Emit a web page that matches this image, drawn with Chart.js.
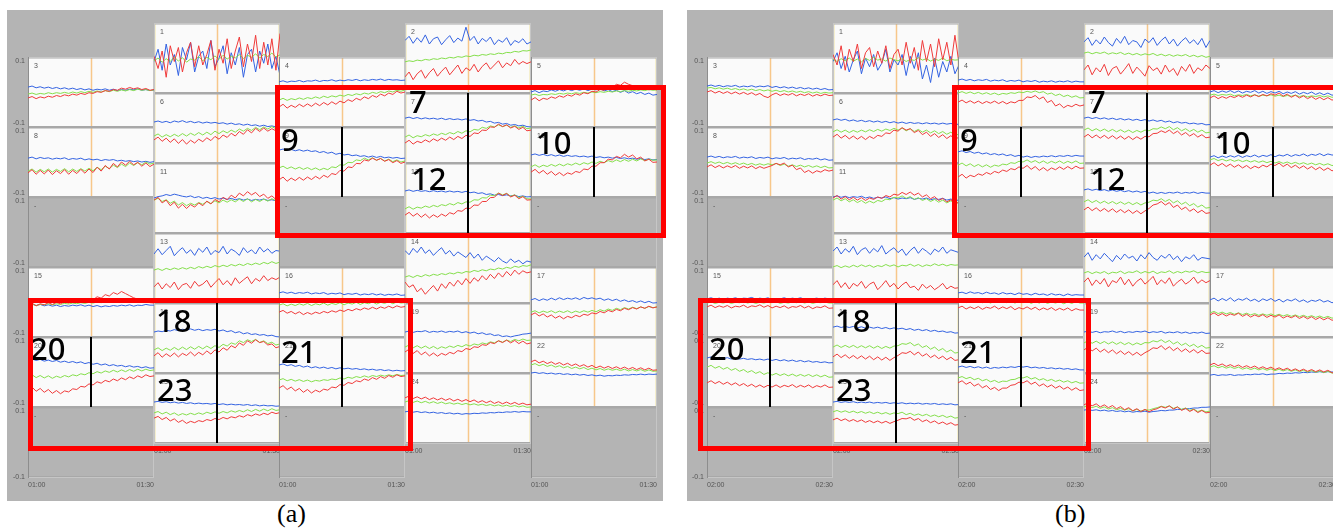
<!DOCTYPE html>
<html>
<head>
<meta charset="utf-8">
<title>Channel tiles (a) / (b)</title>
<script src="https://cdn.jsdelivr.net/npm/chart.js"></script>
<style>
  body { margin:0; width:1333px; height:530px; position:relative; overflow:hidden; background:#fff; }
  .panel { position:absolute; top:10px; height:491px; background:#b4b4b4; }
  canvas { position:absolute; }
  .box { position:absolute; border:5px solid #ff0000; box-sizing:border-box; z-index:5; }
  .cap { position:absolute; top:499px; font:26px "Liberation Serif", serif; color:#000; }
</style>
</head>
<body>
<div class="panel" style="left:7px;width:656px"></div>
<div class="panel" style="left:687px;width:660px"></div>
<script>
// values in 1/1000 of the axis unit (axis runs -0.1 .. 0.1), 32 samples over 30 min
// ---- panel (a) 01:00 - 01:30 ----
const a1b = [-10,25,-35,40,-20,10,-50,30,-5,45,-40,5,20,-30,50,-25,0,35,-45,15,-20,30,-55,10,25,-40,20,-15,40,-30,5,-50];
const a1g = [-8,0,-12,-2,-10,3,-9,1,-12,-3,-6,4,-8,2,-5,6,-4,8,-3,5,0,10,-2,8,2,12,0,10,4,14,3,9];
const a1r = [5,-30,20,-55,35,-10,30,-40,15,45,-25,35,-20,10,50,-35,25,-15,55,-30,20,60,-25,40,-10,65,-30,45,-20,55,-35,70];
const a2b = [50,62,42,58,45,66,40,55,60,38,52,64,44,57,48,88,50,62,40,56,47,60,38,52,45,58,36,50,44,55,40,46];
const a2g = [-11,-8,-10,-6,-8,-4,-6,-2,-4,0,-2,2,0,4,2,6,4,8,6,10,8,12,10,14,12,16,15,19,17,21,20,23];
const a2r = [-54,-40,-62,-45,-35,-58,-42,-30,-52,-38,-26,-48,-34,-20,-44,-28,-36,-18,-40,-24,-14,-32,-20,-8,-28,-14,-22,-4,-18,-10,-16,-11];
const a3b = [14,17,12,15,11,14,10,13,9,12,8,11,7,10,6,9,5,8,6,9,5,8,4,7,5,8,6,9,5,7,4,6];
const a3g = [-6,-3,-7,-4,-6,-2,-5,-2,-4,-1,-4,0,-3,1,-2,2,-1,3,0,4,1,5,2,6,3,7,4,8,5,7,4,6];
const a3r = [-17,-13,-19,-14,-17,-12,-15,-10,-13,-8,-11,-6,-9,-4,-7,-2,-4,1,-1,4,2,7,5,11,8,13,9,12,7,10,5,7];
const a4b = [29,32,28,31,30,33,29,32,31,34,30,33,32,35,31,34,32,35,33,36,32,35,33,36,34,37,33,36,34,35,33,34];
const a4g = [-23,-18,-24,-19,-22,-17,-21,-16,-19,-14,-18,-12,-16,-11,-14,-9,-12,-7,-10,-5,-8,-3,-6,-1,-4,1,-2,3,0,5,2,6];
const a4r = [-43,-35,-46,-38,-44,-35,-42,-34,-41,-32,-39,-30,-37,-28,-35,-26,-31,-22,-27,-18,-23,-14,-19,-10,-15,-6,-11,-3,-7,2,-3,0];
const a5b = [0,4,-2,3,1,6,2,7,3,8,4,8,5,9,4,8,6,10,3,7,1,5,-1,4,-3,1,-5,-1,-7,-3,-9,-7];
const a5g = [-9,-6,-10,-7,-8,-5,-7,-4,-6,-3,-5,-2,-4,-1,-3,0,-2,1,-1,2,0,3,1,4,2,5,3,6,4,7,5,6];
const a5r = [-23,-16,-25,-18,-21,-14,-18,-11,-15,-8,-12,-5,-9,-2,-5,2,0,7,5,14,12,22,19,28,22,18,14,10,12,6,9,6];
const a6b = [17,20,16,19,15,20,17,21,16,19,15,18,14,17,14,16,13,15,11,14,10,12,8,11,7,9,5,8,4,6,3,5];
const a6g = [-23,-17,-26,-19,-25,-18,-24,-16,-23,-15,-21,-13,-20,-12,-19,-9,-16,-8,-14,-6,-12,-3,-9,-1,-7,2,-5,3,-3,4,-2,1];
const a6r = [-34,-26,-38,-29,-41,-31,-44,-33,-46,-35,-43,-32,-39,-28,-36,-24,-32,-20,-27,-15,-23,-10,-18,-5,-14,-1,-10,0,-9,-2,-8,-5];
const a7b = [28,31,27,30,26,29,26,28,25,28,24,27,24,26,23,26,22,24,20,22,17,19,14,16,11,13,8,10,6,8,4,3];
const a7g = [-26,-20,-28,-22,-25,-19,-23,-17,-21,-15,-19,-13,-17,-10,-15,-8,-11,-4,-6,2,-1,6,3,9,4,8,2,6,0,5,-2,0];
const a7r = [-43,-35,-46,-38,-42,-34,-40,-31,-37,-29,-35,-26,-33,-24,-30,-21,-24,-14,-16,-6,-7,3,2,11,4,9,0,5,-4,2,-8,-6];
const a8b = [11,14,9,13,10,12,8,11,9,12,7,10,8,11,6,9,6,8,4,7,5,7,3,5,2,4,1,3,0,2,-1,1];
const a8g = [-26,-20,-29,-21,-28,-20,-29,-21,-27,-19,-28,-20,-27,-19,-26,-18,-25,-15,-22,-12,-19,-9,-16,-6,-13,-3,-10,-2,-8,0,-6,-3];
const a8r = [-31,-22,-35,-24,-34,-23,-36,-25,-33,-22,-35,-24,-33,-21,-32,-20,-30,-15,-26,-10,-20,-4,-14,0,-9,2,-8,-1,-12,-3,-13,-6];
const a9b = [34,37,33,36,32,35,31,34,30,32,27,30,25,28,22,25,20,22,18,20,16,18,14,17,13,16,12,14,11,13,10,11];
const a9g = [-17,-12,-19,-14,-20,-15,-21,-16,-22,-17,-23,-18,-22,-14,-16,-8,-9,-1,-2,6,4,11,6,12,5,10,3,8,1,6,0,3];
const a9r = [-51,-43,-55,-46,-53,-44,-52,-43,-50,-41,-48,-38,-44,-33,-36,-24,-26,-14,-16,-4,-5,6,3,11,5,10,2,7,-2,4,-4,0];
const a10b = [20,23,19,22,18,21,17,20,16,19,16,18,15,17,14,17,13,15,12,14,11,13,10,12,9,11,8,10,7,9,6,7];
const a10g = [-14,-8,-15,-9,-13,-7,-12,-6,-11,-5,-9,-3,-8,-2,-6,0,-4,2,-2,4,0,6,1,7,2,8,3,9,4,8,5,6];
const a10r = [-29,-21,-32,-24,-35,-27,-38,-30,-39,-31,-35,-27,-30,-20,-22,-12,-12,-2,-2,8,6,16,12,22,14,20,9,14,3,8,-1,0];
const a11b = [0,4,6,10,7,11,8,5,3,6,1,4,-1,2,-2,1,-3,0,-4,-1,-5,-2,-6,-3,-7,-4,-6,-3,-7,-5,-8,-6];
const a11g = [-6,-1,-10,-5,-15,-9,-20,-13,-22,-15,-20,-13,-18,-10,-16,-8,-14,-6,-12,-5,-11,-3,-10,-2,-11,-4,-10,-3,-9,-2,-8,-4];
const a11r = [-6,2,-14,-6,-22,-12,-29,-18,-30,-19,-26,-14,-22,-9,-17,-4,-11,2,-5,8,0,14,6,18,9,16,4,11,-1,6,-4,0];
const a12b = [20,23,19,22,19,21,18,21,18,20,17,20,17,19,16,19,15,17,13,15,10,12,8,10,7,9,6,8,4,6,3,4];
const a12g = [-31,-25,-32,-26,-29,-23,-27,-21,-25,-19,-22,-16,-20,-13,-17,-11,-12,-5,-6,1,0,8,7,14,9,13,5,9,1,5,-2,-3];
const a12r = [-49,-41,-52,-44,-55,-46,-57,-48,-55,-46,-52,-42,-46,-36,-38,-29,-30,-20,-21,-10,-10,1,2,14,7,13,3,8,-2,4,-6,-5];
const a13b = [40,55,38,50,62,35,48,58,42,52,36,56,45,60,38,50,44,62,40,54,47,36,58,44,52,40,60,46,55,42,50,48];
const a13g = [-6,-2,-7,-1,-5,0,-4,1,-3,2,-2,4,0,5,1,7,3,8,4,10,6,11,7,13,9,14,10,16,12,18,13,17];
const a13r = [-54,-42,-60,-45,-56,-40,-62,-48,-44,-58,-38,-52,-46,-35,-55,-42,-30,-48,-36,-50,-28,-44,-34,-25,-45,-30,-38,-22,-36,-28,-33,-26];
const a14b = [50,38,56,44,60,42,52,36,48,58,40,50,34,46,38,30,44,28,40,22,34,26,18,30,20,14,26,16,22,12,20,17];
const a14g = [-26,-22,-27,-21,-25,-19,-23,-18,-21,-16,-19,-14,-17,-12,-15,-10,-12,-7,-10,-5,-8,-3,-5,0,-3,2,-1,5,2,7,5,9];
const a14r = [-40,-55,-48,-68,-58,-75,-62,-50,-66,-45,-58,-40,-52,-35,-48,-30,-44,-28,-38,-22,-34,-18,-30,-14,-26,-10,-22,-6,-18,-8,-14,-11];
const a15b = [-9,-6,-10,-7,-11,-8,-12,-9,-13,-10,-12,-9,-11,-8,-12,-9,-13,-10,-14,-11,-13,-10,-12,-9,-11,-8,-12,-9,-10,-7,-9,-9];
const a15g = [-9,-6,-10,-7,-8,-5,-8,-5,-7,-4,-6,-3,-5,-2,-4,-1,-3,0,-2,1,-1,2,0,3,1,4,1,4,2,5,2,3];
const a15r = [-9,-3,-11,-5,-8,-2,-7,-1,-5,1,-3,4,-1,6,2,10,6,15,11,21,17,27,22,30,24,18,12,8,3,2,-2,-3];
const a16b = [26,29,25,28,24,27,25,28,23,26,24,27,22,25,23,26,21,24,22,25,20,23,21,24,20,23,19,22,20,23,19,20];
const a16g = [-9,-5,-11,-6,-10,-5,-9,-4,-10,-5,-8,-3,-9,-4,-7,-2,-8,-3,-6,-1,-7,-2,-5,0,-6,-1,-4,1,-5,0,-3,-2];
const a16r = [-29,-24,-32,-27,-34,-28,-36,-30,-35,-29,-33,-27,-31,-25,-29,-23,-27,-21,-25,-19,-23,-17,-21,-15,-20,-14,-18,-12,-17,-11,-15,-13];
const a17b = [6,10,4,9,5,11,6,12,7,11,8,12,7,13,9,12,8,11,5,9,4,8,2,6,1,4,-1,3,-2,2,-3,-2];
const a17g = [-29,-25,-31,-26,-30,-25,-31,-26,-30,-25,-31,-26,-30,-25,-29,-24,-28,-22,-26,-20,-24,-18,-22,-16,-20,-15,-19,-14,-18,-13,-16,-14];
const a17r = [-37,-31,-40,-34,-43,-37,-46,-40,-48,-41,-45,-38,-42,-35,-38,-31,-34,-27,-31,-24,-28,-21,-25,-18,-22,-16,-20,-14,-18,-12,-17,-14];
const a18b = [17,20,18,22,20,24,21,25,23,26,22,25,21,24,22,25,20,23,18,21,15,18,12,15,10,12,8,10,6,8,4,3];
const a18g = [-34,-28,-36,-29,-35,-27,-34,-26,-33,-25,-32,-24,-31,-23,-30,-22,-27,-18,-23,-14,-18,-8,-13,-5,-10,-4,-13,-8,-16,-12,-20,-17];
const a18r = [-51,-42,-55,-45,-53,-43,-54,-44,-50,-40,-51,-41,-48,-37,-46,-34,-40,-28,-35,-22,-28,-14,-21,-8,-15,-5,-13,-10,-20,-17,-28,-24];
const a19b = [17,20,16,19,18,21,16,19,17,20,16,19,17,20,15,18,14,17,12,15,10,12,7,9,4,6,3,6,8,11,12,14];
const a19g = [-26,-20,-28,-22,-29,-23,-30,-24,-31,-25,-29,-23,-27,-21,-25,-19,-23,-17,-20,-14,-17,-11,-14,-8,-12,-6,-10,-4,-8,-3,-7,-6];
const a19r = [-40,-32,-44,-36,-48,-40,-51,-43,-52,-44,-49,-41,-45,-36,-39,-30,-33,-25,-27,-19,-21,-13,-16,-8,-13,-6,-14,-7,-16,-9,-17,-14];
const a20b = [34,37,33,36,31,34,30,33,28,31,27,30,26,29,24,27,22,25,20,23,18,21,17,19,15,18,14,16,12,15,11,12];
const a20g = [-14,-8,-16,-10,-17,-11,-18,-12,-16,-10,-14,-8,-11,-5,-8,-2,-5,1,-3,3,-1,5,0,6,1,7,2,8,3,8,4,6];
const a20r = [-51,-43,-55,-47,-58,-50,-61,-53,-62,-54,-57,-48,-50,-41,-43,-34,-37,-28,-32,-24,-28,-20,-25,-17,-22,-14,-19,-11,-16,-8,-13,-11];
const a21b = [20,23,18,21,16,19,14,17,12,15,11,14,10,13,9,12,9,11,8,10,7,9,6,8,5,7,4,6,3,5,3,4];
const a21g = [-23,-19,-25,-21,-26,-22,-27,-23,-28,-24,-26,-22,-24,-20,-22,-17,-20,-15,-18,-13,-16,-11,-15,-10,-13,-9,-12,-8,-11,-7,-10,-9];
const a21r = [-46,-39,-50,-43,-54,-47,-58,-50,-60,-52,-57,-49,-52,-43,-45,-36,-38,-30,-33,-25,-28,-20,-24,-16,-21,-13,-18,-10,-15,-8,-13,-11];
const a22b = [-3,-1,-4,-2,-5,-3,-6,-4,-7,-5,-8,-6,-9,-7,-10,-8,-11,-9,-12,-10,-11,-9,-10,-8,-9,-7,-8,-6,-8,-6,-7,-6];
const a22g = [20,24,18,22,16,20,14,18,12,16,10,14,9,13,7,11,6,10,5,9,5,8,4,8,3,7,3,7,2,6,2,3];
const a22r = [29,34,26,31,24,29,22,27,20,25,18,23,16,21,14,19,12,17,11,16,10,15,9,14,8,13,7,12,6,11,5,6];
const a23b = [17,19,16,18,15,17,14,16,13,15,12,14,12,13,11,13,10,12,9,11,9,10,8,10,7,9,6,8,6,7,5,6];
const a23g = [-14,-10,-17,-12,-19,-14,-21,-16,-20,-15,-19,-14,-18,-12,-16,-11,-15,-10,-14,-8,-12,-7,-11,-5,-10,-4,-9,-3,-8,-2,-7,-5];
const a23r = [-29,-24,-33,-27,-37,-31,-41,-35,-44,-38,-42,-36,-39,-33,-36,-30,-33,-27,-31,-25,-28,-22,-26,-19,-23,-17,-21,-15,-19,-12,-16,-13];
const a24b = [-11,-9,-12,-10,-13,-11,-14,-12,-15,-13,-16,-14,-17,-15,-18,-16,-17,-15,-16,-14,-15,-13,-14,-12,-13,-11,-12,-10,-12,-10,-11,-11];
const a24g = [17,21,16,20,15,19,14,18,13,17,12,15,11,14,10,13,9,12,8,11,7,10,6,9,5,8,4,7,3,6,2,3];
const a24r = [29,34,27,32,26,31,24,29,23,28,22,27,20,25,19,24,18,23,16,21,15,20,13,18,12,17,11,16,10,14,9,11];

// ---- panel (b) 02:00 - 02:30 ----
const b1b = [-10,15,-30,5,-40,-5,20,-45,0,-25,10,-35,-15,25,-40,-5,-20,10,-50,5,-30,15,-60,-20,-70,0,-55,-10,-40,5,-45,-20];
const b1g = [-4,-10,-2,-8,0,-9,-3,-11,-1,-7,2,-6,-3,-9,0,-5,-8,-2,-10,-4,-7,1,-6,-2,-9,-3,-7,0,-8,-4,-6,-5];
const b1r = [10,-20,35,-35,25,-10,40,-30,15,30,-25,20,-15,35,-30,10,25,-20,45,-15,30,-35,50,-10,40,-25,55,-5,45,-20,65,-15];
const b2b = [46,58,36,52,40,60,44,34,56,42,62,38,50,46,30,54,44,58,36,50,60,40,54,34,48,58,42,52,38,56,30,50];
const b2g = [14,17,12,16,13,17,11,15,12,16,10,14,9,13,8,12,9,13,7,11,6,10,5,9,6,10,4,8,3,7,2,5];
const b2r = [-34,-20,-48,-28,-40,-18,-50,-30,-24,-46,-32,-16,-44,-26,-38,-52,-22,-36,-28,-46,-20,-40,-30,-50,-24,-38,-18,-44,-28,-36,-20,-30];
const b3b = [17,20,16,19,15,18,16,19,14,17,15,18,14,17,15,18,13,16,12,15,11,14,10,13,9,12,8,11,7,10,6,7];
const b3g = [11,13,9,12,8,11,7,10,6,9,5,8,4,7,3,6,2,5,1,4,0,3,-1,2,-2,1,-3,0,-4,-1,-3,-2];
const b3r = [0,4,-3,2,-4,1,-5,0,-6,-1,-7,-2,-9,-4,-12,-16,-8,-3,-10,-5,-9,-4,-11,-6,-10,-5,-12,-7,-11,-6,-10,-9];
const b4b = [34,37,33,36,32,35,33,36,31,34,32,35,30,33,31,34,29,32,30,33,28,31,29,32,28,31,29,32,28,31,29,29];
const b4g = [-3,1,-4,0,-5,-1,-6,-2,-7,-3,-8,-4,-6,-2,-4,0,-2,2,-1,3,-2,1,-6,-3,-10,-6,-13,-9,-15,-11,-17,-16];
const b4r = [-29,-23,-31,-25,-32,-26,-33,-27,-32,-26,-33,-27,-34,-28,-31,-24,-24,-14,-16,-10,-20,-14,-30,-24,-40,-34,-45,-38,-42,-35,-40,-37];
const b5b = [0,4,-2,3,-1,4,-2,3,-3,2,-1,4,-3,2,-4,1,-3,2,-5,0,-4,1,-6,-1,-5,0,-7,-2,-8,-3,-9,-8];
const b5g = [-9,-6,-10,-7,-9,-6,-11,-8,-10,-7,-11,-8,-12,-9,-11,-8,-12,-9,-13,-10,-12,-9,-13,-10,-14,-11,-13,-10,-14,-11,-15,-14];
const b5r = [-17,-11,-19,-13,-18,-12,-16,-10,-15,-9,-14,-8,-13,-7,-11,-5,-9,-3,-12,-6,-15,-9,-17,-11,-19,-13,-21,-15,-22,-16,-23,-21];
const b6b = [23,26,22,25,20,23,19,22,18,21,17,20,16,19,15,18,14,17,13,16,13,15,12,15,12,14,11,14,11,13,10,11];
const b6g = [-11,-5,-12,-6,-13,-7,-12,-6,-11,-5,-10,-4,-9,-3,-7,-1,-6,0,-8,-2,-10,-4,-12,-6,-14,-8,-16,-10,-18,-12,-20,-18];
const b6r = [-26,-18,-29,-21,-31,-23,-32,-24,-33,-24,-30,-21,-24,-14,-16,-6,-9,1,-6,-2,-13,-7,-19,-12,-24,-16,-27,-19,-30,-22,-31,-27];
const b7b = [28,31,27,30,26,29,25,28,24,27,23,26,22,25,21,24,20,23,19,22,17,20,15,18,14,16,12,14,11,13,9,10];
const b7g = [-6,0,-8,-2,-9,-3,-10,-4,-11,-5,-12,-6,-13,-7,-12,-6,-8,-2,-3,3,-2,4,-5,1,-8,-2,-10,-4,-12,-6,-14,-12];
const b7r = [-26,-18,-28,-20,-29,-21,-30,-22,-31,-23,-32,-24,-33,-25,-32,-24,-25,-16,-15,-8,-13,-6,-16,-9,-20,-13,-23,-16,-26,-19,-28,-26];
const b8b = [14,17,13,16,12,15,13,16,11,14,12,15,10,13,11,14,9,12,10,13,8,11,9,12,7,10,8,11,6,9,5,6];
const b8g = [-3,1,-4,0,-5,-1,-6,-2,-7,-3,-8,-4,-9,-5,-9,-5,-8,-4,-10,-6,-12,-8,-13,-9,-14,-10,-15,-11,-16,-12,-17,-16];
const b8r = [-14,-8,-16,-10,-17,-11,-16,-10,-18,-12,-17,-11,-19,-13,-18,-14,-10,-4,-8,-3,-14,-9,-22,-17,-30,-24,-32,-25,-29,-22,-26,-23];
const b9b = [29,32,27,30,25,28,23,26,21,24,20,23,18,21,16,19,14,17,13,16,14,17,15,18,15,18,16,19,16,19,17,17];
const b9g = [-9,-3,-11,-5,-13,-7,-14,-8,-15,-9,-12,-6,-8,-2,-4,2,0,6,-1,4,-3,3,-4,2,-3,3,-4,2,-3,3,-4,-3];
const b9r = [-43,-35,-46,-38,-42,-34,-38,-30,-35,-27,-31,-23,-27,-19,-22,-14,-18,-10,-21,-13,-24,-16,-25,-17,-22,-14,-21,-13,-20,-12,-18,-17];
const b10b = [14,18,12,17,13,18,14,19,13,18,15,20,14,19,16,21,15,20,17,22,16,21,18,23,17,22,19,24,18,23,20,20];
const b10g = [6,10,4,8,3,7,2,6,1,5,0,4,-1,3,-2,2,-3,1,-4,0,-5,-1,-6,-2,-7,-3,-8,-4,-9,-5,-10,-9];
const b10r = [-9,-2,-11,-4,-13,-6,-15,-8,-17,-10,-19,-12,-17,-9,-14,-6,-10,-3,-13,-6,-16,-9,-18,-11,-20,-13,-22,-15,-24,-17,-25,-23];
const b11b = [3,6,2,5,1,4,2,5,0,3,-1,2,0,3,-2,1,-3,0,-2,1,-4,-1,-3,0,-5,-2,-4,-1,-6,-3,-7,-6];
const b11g = [-6,0,-8,-2,-11,-5,-13,-7,-15,-9,-14,-7,-10,-3,-5,2,0,6,-1,4,-4,1,-7,-2,-10,-4,-12,-6,-14,-8,-15,-13];
const b11r = [0,7,-3,4,-5,2,-6,1,-7,0,-4,3,-1,7,3,11,8,16,10,17,8,14,3,9,-2,4,-7,-1,-11,-5,-15,-13];
const b12b = [23,26,22,25,21,24,20,23,19,22,18,21,17,20,16,19,14,17,13,16,13,16,14,17,13,16,14,17,13,16,14,14];
const b12g = [-11,-5,-13,-7,-15,-9,-16,-10,-17,-11,-18,-12,-19,-13,-20,-14,-12,-6,-8,-2,-10,-4,-14,-8,-18,-12,-22,-16,-26,-20,-29,-27];
const b12r = [-34,-26,-36,-28,-38,-30,-39,-31,-41,-33,-42,-34,-44,-36,-45,-37,-30,-20,-17,-10,-20,-13,-27,-20,-33,-26,-38,-31,-42,-35,-44,-42];
const b13b = [48,60,40,55,45,62,38,52,58,42,56,46,64,40,50,58,44,54,36,50,60,42,56,48,38,54,46,60,42,52,48,44];
const b13g = [3,7,1,6,2,8,3,9,4,8,2,7,4,10,5,9,3,8,6,11,5,10,4,9,6,12,7,11,6,10,8,9];
const b13r = [-48,-36,-56,-42,-60,-44,-52,-38,-58,-46,-40,-62,-50,-36,-54,-44,-60,-48,-40,-56,-52,-64,-46,-58,-50,-62,-54,-44,-60,-52,-58,-56];
const b14b = [31,44,22,38,26,42,30,18,36,24,40,28,34,20,38,26,44,30,22,36,28,40,24,34,18,32,26,38,22,30,28,26];
const b14g = [-14,-10,-16,-11,-15,-10,-17,-12,-14,-9,-16,-11,-13,-8,-15,-10,-14,-9,-16,-11,-13,-8,-15,-10,-14,-9,-12,-8,-14,-10,-13,-12];
const b14r = [-40,-28,-50,-34,-46,-30,-54,-36,-42,-26,-48,-32,-52,-38,-30,-46,-36,-24,-48,-34,-44,-28,-52,-40,-32,-46,-38,-26,-44,-34,-42,-36];
const b15b = [9,12,8,11,7,11,9,12,8,11,10,13,8,11,9,12,7,10,9,12,8,11,9,12,8,10,9,11,8,11,9,9];
const b15g = [-3,0,-4,-1,-3,0,-4,-1,-2,1,-3,0,-4,-1,-3,0,-2,1,-4,-1,-3,0,-2,1,-3,0,-4,-1,-2,0,-3,-3];
const b15r = [-14,-9,-16,-11,-15,-10,-17,-12,-14,-9,-16,-11,-13,-8,-15,-10,-17,-12,-16,-11,-18,-13,-15,-10,-17,-12,-19,-14,-16,-11,-18,-17];
const b16b = [26,28,24,29,25,27,23,28,24,26,22,27,23,25,21,26,22,24,20,25,21,23,19,24,20,22,18,23,19,21,20,20];
const b16g = [0,4,-2,3,-1,4,-2,2,-3,2,-1,3,-2,2,-3,1,-2,2,-4,1,-3,2,-4,0,-3,1,-5,0,-4,1,-3,-3];
const b16r = [-17,-12,-20,-14,-19,-13,-21,-15,-18,-12,-20,-14,-19,-13,-22,-16,-20,-14,-21,-15,-23,-17,-22,-16,-24,-18,-23,-17,-25,-19,-23,-23];
const b17b = [6,11,3,10,4,12,2,9,5,11,3,8,1,9,4,10,2,8,0,7,3,9,1,6,-1,5,2,7,0,4,-2,0];
const b17g = [-31,-27,-33,-29,-34,-30,-35,-31,-36,-32,-37,-33,-38,-34,-38,-34,-39,-35,-40,-36,-41,-37,-42,-38,-43,-39,-44,-40,-45,-41,-46,-45];
const b17r = [-37,-31,-39,-33,-40,-34,-38,-32,-41,-35,-43,-37,-42,-36,-44,-38,-43,-37,-46,-40,-45,-39,-47,-41,-48,-42,-50,-44,-51,-45,-52,-51];
const b18b = [31,34,30,33,30,33,29,32,28,31,28,31,27,30,26,29,26,28,24,27,22,25,21,24,19,22,18,20,16,18,14,15];
const b18g = [-26,-20,-27,-21,-27,-21,-28,-22,-28,-22,-29,-23,-30,-24,-29,-23,-22,-16,-18,-13,-22,-17,-27,-22,-32,-26,-36,-30,-40,-34,-43,-41];
const b18r = [-54,-46,-56,-48,-58,-50,-59,-51,-60,-52,-62,-54,-63,-55,-64,-56,-50,-42,-44,-38,-48,-40,-52,-45,-56,-49,-59,-52,-62,-55,-64,-62];
const b19b = [17,20,16,19,15,18,17,20,16,19,15,18,16,19,17,20,15,18,16,19,14,17,15,18,14,17,13,16,14,17,13,14];
const b19g = [-14,-8,-15,-9,-16,-10,-17,-11,-18,-12,-19,-13,-20,-14,-19,-13,-14,-8,-11,-5,-13,-7,-17,-11,-21,-15,-24,-18,-27,-21,-29,-27];
const b19r = [-34,-26,-37,-29,-40,-32,-42,-34,-45,-37,-47,-39,-49,-41,-50,-42,-36,-28,-30,-22,-33,-25,-36,-28,-39,-31,-41,-33,-43,-35,-44,-43];
const b20b = [40,43,39,42,38,41,37,40,37,39,36,38,35,37,34,37,33,36,32,35,31,34,30,33,29,32,28,30,27,29,26,27];
const b20g = [14,19,11,16,8,13,5,10,2,7,-1,4,-4,1,-7,-2,-9,-4,-10,-5,-11,-6,-12,-7,-12,-7,-13,-8,-14,-9,-15,-14];
const b20r = [-31,-25,-33,-27,-35,-29,-37,-31,-39,-33,-41,-35,-43,-37,-44,-38,-43,-37,-44,-38,-42,-36,-44,-38,-43,-37,-45,-39,-43,-37,-44,-43];
const b21b = [14,17,13,16,12,15,11,14,10,13,11,14,12,15,13,16,14,16,12,14,11,13,10,12,9,11,8,10,7,9,6,6];
const b21g = [-17,-13,-19,-15,-22,-18,-25,-21,-28,-24,-30,-26,-27,-22,-21,-16,-17,-13,-20,-16,-23,-19,-25,-21,-27,-23,-29,-25,-31,-27,-32,-31];
const b21r = [-31,-25,-35,-29,-40,-34,-45,-39,-50,-44,-53,-46,-46,-38,-36,-29,-31,-25,-35,-29,-40,-34,-43,-37,-46,-40,-49,-43,-52,-45,-53,-51];
const b22b = [-9,-7,-10,-8,-9,-7,-10,-8,-9,-7,-8,-6,-7,-5,-8,-6,-6,-4,-5,-3,-4,-2,-3,-1,-2,0,-1,1,-1,1,0,0];
const b22g = [14,18,12,16,11,15,10,14,8,12,7,11,6,10,5,9,4,8,3,7,2,6,1,5,0,4,-1,3,-2,2,-3,-3];
const b22r = [20,25,18,23,16,21,15,20,13,18,12,17,10,15,9,14,7,12,6,11,4,9,3,8,2,7,1,6,0,5,-2,-3];
const b23b = [17,19,16,18,16,18,15,17,15,17,14,16,14,16,13,15,13,15,12,14,12,14,11,13,11,13,10,12,10,12,9,10];
const b23g = [-11,-7,-12,-8,-13,-9,-14,-10,-15,-11,-16,-12,-17,-13,-18,-14,-16,-12,-19,-15,-21,-17,-22,-18,-24,-20,-25,-21,-27,-23,-29,-27];
const b23r = [-34,-29,-36,-31,-38,-33,-39,-34,-41,-36,-42,-37,-43,-38,-44,-39,-35,-30,-31,-27,-35,-30,-39,-34,-42,-37,-45,-40,-47,-42,-49,-47];
const b24b = [-6,-4,-7,-5,-8,-6,-9,-7,-10,-8,-11,-9,-12,-10,-11,-9,-12,-10,-9,-7,-8,-6,-6,-4,-4,-2,-2,0,0,2,2,3];
const b24g = [3,7,1,5,-1,3,-3,1,-5,-1,-6,-2,-8,-4,-9,-5,-6,-2,1,5,2,6,-1,3,-4,0,-7,-3,-10,-6,-11,-9];
const b24r = [9,15,6,12,3,9,1,7,-2,4,-5,1,-8,-2,-10,-4,-11,-5,-2,4,0,6,-3,3,-7,-1,-10,-4,-13,-7,-14,-12];

const ticksA = ['01:00', '01:30'];
const ticksB = ['02:00', '02:30'];
// channel number in each column, top to bottom (0 = empty slot "-")
const colTiles = [[3, 8, 0, 15, 20, 0], [1, 6, 11, 13, 18, 23], [4, 9, 0, 16, 21, 0], [2, 7, 12, 14, 19, 24], [5, 10, 0, 17, 22, 0]];
const marked = [9, 7, 12, 10, 20, 18, 23, 21];

// red / green / blue per channel (red drawn on top)
const seriesA = {
  1: [a1r, a1g, a1b], 2: [a2r, a2g, a2b], 3: [a3r, a3g, a3b], 4: [a4r, a4g, a4b], 5: [a5r, a5g, a5b], 6: [a6r, a6g, a6b],
  7: [a7r, a7g, a7b], 8: [a8r, a8g, a8b], 9: [a9r, a9g, a9b], 10: [a10r, a10g, a10b], 11: [a11r, a11g, a11b], 12: [a12r, a12g, a12b],
  13: [a13r, a13g, a13b], 14: [a14r, a14g, a14b], 15: [a15r, a15g, a15b], 16: [a16r, a16g, a16b], 17: [a17r, a17g, a17b], 18: [a18r, a18g, a18b],
  19: [a19r, a19g, a19b], 20: [a20r, a20g, a20b], 21: [a21r, a21g, a21b], 22: [a22r, a22g, a22b], 23: [a23r, a23g, a23b], 24: [a24r, a24g, a24b]
};
const seriesB = {
  1: [b1r, b1g, b1b], 2: [b2r, b2g, b2b], 3: [b3r, b3g, b3b], 4: [b4r, b4g, b4b], 5: [b5r, b5g, b5b], 6: [b6r, b6g, b6b],
  7: [b7r, b7g, b7b], 8: [b8r, b8g, b8b], 9: [b9r, b9g, b9b], 10: [b10r, b10g, b10b], 11: [b11r, b11g, b11b], 12: [b12r, b12g, b12b],
  13: [b13r, b13g, b13b], 14: [b14r, b14g, b14b], 15: [b15r, b15g, b15b], 16: [b16r, b16g, b16b], 17: [b17r, b17g, b17b], 18: [b18r, b18g, b18b],
  19: [b19r, b19g, b19b], 20: [b20r, b20g, b20b], 21: [b21r, b21g, b21b], 22: [b22r, b22g, b22b], 23: [b23r, b23g, b23b], 24: [b24r, b24g, b24b]
};

const COLORS = ['#f03a3a', '#85df4c', '#3463e2'];
const TILE_H = 70;
const colTop = [57, 23, 57, 23, 57];
// big label glyph offsets inside a tile
const bigOff = { 9: [2, 2], 7: [4, -2], 12: [6, 5], 10: [5, 5], 20: [2, 1], 18: [2, 7], 23: [3, 6], 21: [2, 4] };
const panels = [
  { colX: [28, 154, 279, 405, 531], ticks: ticksA, series: seriesA },
  { colX: [707, 833, 958, 1084, 1210], ticks: ticksB, series: seriesB }
];
const small = '7px "Liberation Sans", Arial, sans-serif';

function tilePlugin(tiles, c) {
  return {
    id: 'tiles',
    beforeDatasetsDraw(chart) {
      const ctx = chart.ctx, xs = chart.scales.x;
      const L = xs.left, R = xs.right, M = Math.round(xs.getPixelForValue(15)) + 0.5;
      const ca = chart.chartArea;
      ctx.save();
      tiles.forEach((n, r) => {
        const s = chart.scales['y' + r], T = s.top, B = s.bottom;
        ctx.fillStyle = n ? '#fafafa' : '#b4b4b4';
        ctx.fillRect(L, T, R - L, B - T);
        if (n && !marked.includes(n)) {
          ctx.strokeStyle = '#f7c78a'; ctx.lineWidth = 1.5;
          ctx.beginPath(); ctx.moveTo(M, T); ctx.lineTo(M, B); ctx.stroke();
        }
        if (n && (c === 1 || c === 3)) {
          ctx.strokeStyle = '#efe3a2'; ctx.lineWidth = 1.5;
          ctx.beginPath(); ctx.moveTo(L + 0.75, T); ctx.lineTo(L + 0.75, B);
          ctx.moveTo(R - 0.75, T); ctx.lineTo(R - 0.75, B); ctx.stroke();
        }
        if (n && c === 4) {
          ctx.strokeStyle = '#efe3a2'; ctx.lineWidth = 1.5;
          ctx.beginPath(); ctx.moveTo(R - 0.75, T); ctx.lineTo(R - 0.75, B); ctx.stroke();
        }
        ctx.strokeStyle = '#a8a8a8'; ctx.lineWidth = 1.5;
        ctx.beginPath(); ctx.moveTo(L, T + 0.75); ctx.lineTo(R, T + 0.75);
        ctx.moveTo(L, B - 0.25); ctx.lineTo(R, B - 0.25); ctx.stroke();
        ctx.fillStyle = '#555'; ctx.font = small; ctx.textBaseline = 'alphabetic';
        ctx.fillText(n ? String(n) : '-', L + 6, T + 11);
      });
      // column frame
      ctx.strokeStyle = '#c6c6c6'; ctx.lineWidth = 1;
      ctx.strokeRect(ca.left + 0.5, ca.top + 0.5, ca.right - ca.left - 1, ca.bottom - ca.top);
      if (c % 2 === 0) {
        ctx.strokeStyle = '#8d8d8d';
        ctx.beginPath(); ctx.moveTo(ca.left + 0.5, ca.top); ctx.lineTo(ca.left + 0.5, ca.bottom + 1); ctx.stroke();
      }
      ctx.restore();
    },
    afterDatasetsDraw(chart) {
      const ctx = chart.ctx, xs = chart.scales.x;
      const L = xs.left, M = Math.round(xs.getPixelForValue(15));
      ctx.save();
      tiles.forEach((n, r) => {
        if (!marked.includes(n)) return;
        const s = chart.scales['y' + r];
        ctx.fillStyle = '#000';
        ctx.fillRect(M - 1, s.top, 2, s.bottom - s.top);
        const o = bigOff[n];
        ctx.font = '500 31px "Noto Sans", "Liberation Sans", sans-serif';
        ctx.textBaseline = 'alphabetic';
        ctx.fillText(String(n), L + o[0], s.top + o[1] + 22);
      });
      ctx.restore();
    }
  };
}

function makeColumn(p, c) {
  const tiles = colTiles[c];
  const yw = c === 0 ? 21 : 0;
  const cv = document.createElement('canvas');
  cv.width = 126 + yw;
  cv.height = 6 * TILE_H + 14;
  cv.style.left = (p.colX[c] - yw) + 'px';
  cv.style.top = colTop[c] + 'px';
  document.body.appendChild(cv);

  const scales = {
    x: {
      type: 'linear', min: 0, max: 30, position: 'bottom',
      grid: { display: false, drawTicks: false }, border: { display: false },
      ticks: { font: { size: 7, family: '"Liberation Sans", Arial' }, color: '#555', padding: 4,
        align: 'inner', maxRotation: 0, autoSkip: false, callback: (v, i) => p.ticks[i] },
      afterBuildTicks: s => { s.ticks = [{ value: 0 }, { value: 30 }]; },
      afterFit: s => { s.height = 14; s.paddingLeft = 0; s.paddingRight = 0; }
    }
  };
  // defined bottom-up so that y0 ends at the top of the stack
  for (let r = 5; r >= 0; r--) {
    scales['y' + r] = {
      type: 'linear', min: -0.1, max: 0.1, position: 'left', stack: 'col', stackWeight: 1, offset: false,
      display: c === 0,
      grid: { display: false, drawTicks: false }, border: { display: false },
      ticks: { font: { size: 7, family: '"Liberation Sans", Arial' }, color: '#555', padding: 3,
        callback: v => v > 0 ? ['', '0.1'] : (r === 5 ? '-0.1' : ['-0.1', '']) },
      afterBuildTicks: s => { s.ticks = [{ value: -0.1 }, { value: 0.1 }]; },
      afterFit: s => { s.width = yw; s.paddingTop = 0; s.paddingBottom = 0; }
    };
  }

  const datasets = [];
  tiles.forEach((n, r) => {
    if (!n) return;
    p.series[n].forEach((arr, k) => {
      datasets.push({
        data: arr.map((v, i) => ({ x: i * 30 / (arr.length - 1), y: v / 1000 })),
        yAxisID: 'y' + r, borderColor: COLORS[k], borderWidth: 1, pointRadius: 0, tension: 0, fill: false
      });
    });
  });

  new Chart(cv, {
    type: 'line',
    data: { datasets },
    options: {
      responsive: false, animation: false, events: [],
      layout: { padding: 0 },
      plugins: { legend: { display: false }, tooltip: { enabled: false } },
      scales
    },
    plugins: [tilePlugin(tiles, c)]
  });
}

panels.forEach(p => { for (let c = 0; c < 5; c++) makeColumn(p, c); });

// highlight frames and captions
[[275, 85, 391, 153], [28, 298, 385, 153], [952, 85, 400, 153], [698, 298, 393, 153]].forEach(b => {
  const d = document.createElement('div');
  d.className = 'box';
  d.style.cssText = `left:${b[0]}px;top:${b[1]}px;width:${b[2]}px;height:${b[3]}px`;
  document.body.appendChild(d);
});
[['(a)', 277], ['(b)', 1055]].forEach(t => {
  const d = document.createElement('div');
  d.className = 'cap'; d.textContent = t[0]; d.style.left = t[1] + 'px';
  document.body.appendChild(d);
});
</script>
</body>
</html>
